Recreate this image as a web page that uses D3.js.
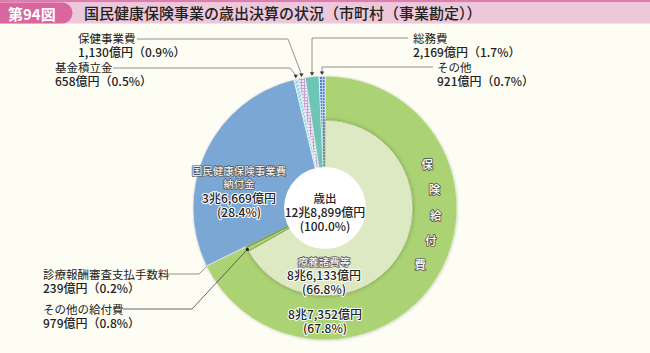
<!DOCTYPE html>
<html>
<head>
<meta charset="utf-8">
<script src="https://cdn.jsdelivr.net/npm/d3@7"></script>
<style>
  html, body { margin: 0; padding: 0; background: #fdfdf4; }
  svg { display: block; font-family: "Noto Sans CJK JP", "Noto Sans", sans-serif; }
</style>
</head>
<body>
<div id="grafico"></div>
<script>
// 外側の円：歳出の内訳（億円）
const categorias = ["保険給付費", "国民健康保険事業費納付金", "基金積立金", "保健事業費", "総務費", "その他"];
const montos = [87352, 36669, 658, 1130, 2169, 921];
const porcentajes = ["67.8%", "28.4%", "0.5%", "0.9%", "1.7%", "0.7%"];
const montosTexto = ["8兆7,352億円", "3兆6,669億円", "658億円", "1,130億円", "2,169億円", "921億円"];

// 内側の円：保険給付費の内訳（億円）
const subCategorias = ["療養諸費等", "その他の給付費", "診療報酬審査支払手数料"];
const subMontos = [86133, 979, 239];
const subPorcentajes = ["66.8%", "0.8%", "0.2%"];
const subMontosTexto = ["8兆6,133億円", "979億円", "239億円"];

const totalTexto = "12兆8,899億円";
const titulo = "国民健康保険事業の歳出決算の状況（市町村（事業勘定））";

const width = 650, height = 353;
const cx = 325, cy = 208;
const rOuter = 132, rMid = 88, rCenter = 41;

const svg = d3.select("#grafico").append("svg")
    .attr("width", width)
    .attr("height", height);

const defs = svg.append("defs");

// 模様
const p1 = defs.append("pattern").attr("id", "pt-kikin")
    .attr("width", 3).attr("height", 3).attr("patternUnits", "userSpaceOnUse")
    .attr("patternTransform", "rotate(45)");
p1.append("rect").attr("width", 3).attr("height", 3).attr("fill", "#7fd3e6");
p1.append("rect").attr("width", 1.2).attr("height", 3).attr("fill", "#e8f8fb");

const p2 = defs.append("pattern").attr("id", "pt-hoken")
    .attr("width", 3).attr("height", 3).attr("patternUnits", "userSpaceOnUse");
p2.append("rect").attr("width", 3).attr("height", 3).attr("fill", "#efe3f1");
p2.append("rect").attr("width", 1).attr("height", 3).attr("fill", "#c6a2d2");
p2.append("rect").attr("width", 3).attr("height", 1).attr("fill", "#c6a2d2");

const p3 = defs.append("pattern").attr("id", "pt-otros")
    .attr("width", 3).attr("height", 3).attr("patternUnits", "userSpaceOnUse");
p3.append("rect").attr("width", 3).attr("height", 3).attr("fill", "#4d80d2");
p3.append("rect").attr("width", 1).attr("height", 3).attr("fill", "#b9cdf0");
p3.append("rect").attr("width", 3).attr("height", 1).attr("fill", "#b9cdf0");

const sombra = defs.append("filter").attr("id", "sombra")
    .attr("x", "-20%").attr("y", "-20%").attr("width", "140%").attr("height", "140%");
sombra.append("feDropShadow").attr("dx", 0).attr("dy", 0)
    .attr("stdDeviation", 2.2).attr("flood-color", "#3d5a1e").attr("flood-opacity", 0.45);

const sombra2 = defs.append("filter").attr("id", "sombra2")
    .attr("x", "-20%").attr("y", "-20%").attr("width", "140%").attr("height", "140%");
sombra2.append("feDropShadow").attr("dx", 0.5).attr("dy", 0.5)
    .attr("stdDeviation", 1.2).attr("flood-color", "#666").attr("flood-opacity", 0.35);

const colores = ["#abd374", "#7ba7d4", "url(#pt-kikin)", "url(#pt-hoken)", "#6cc5b5", "url(#pt-otros)"];
const subColores = ["#dde9c3", "#abd374", "#abd374"];

// タイトル
svg.append("rect").attr("x", 0).attr("y", 0).attr("width", width).attr("height", 2.5).attr("fill", "#de7db0");
svg.append("rect").attr("x", 0).attr("y", 2.5).attr("width", width).attr("height", 21).attr("fill", "#ecc8da");
svg.append("path")
    .attr("d", "M0,2.5 H62 A10.5,10.5 0 0 1 62,23.5 H0 Z")
    .attr("fill", "#d9669f");
svg.append("text").attr("x", 8).attr("y", 19.5)
    .attr("font-size", 15).attr("font-weight", "bold").attr("fill", "#fff")
    .text("第94図");
svg.append("text").attr("x", 84).attr("y", 19)
    .attr("font-size", 15).attr("font-weight", 500).attr("fill", "#222")
    .text(titulo);

const g = svg.append("g").attr("transform", `translate(${cx},${cy})`);

// 外側
const pie = d3.pie().sort(null).value(d => d);
const arcosExt = pie(montos);
const arcExt = d3.arc().innerRadius(0).outerRadius(rOuter);

g.append("circle").attr("r", rOuter).attr("fill", "#999").attr("filter", "url(#sombra2)");

g.selectAll(".ext")
    .data(arcosExt)
    .enter()
    .append("path")
    .attr("class", "ext")
    .attr("d", arcExt)
    .attr("fill", (d, i) => colores[i])
    .attr("stroke", "#fff")
    .attr("stroke-width", 0.6);

// 内側（保険給付費の内訳）
const resto = d3.sum(montos) - d3.sum(subMontos);
const arcosInt = pie(subMontos.concat([resto])).slice(0, subMontos.length);
const arcInt = d3.arc().innerRadius(0).outerRadius(rMid);

g.append("path")
    .attr("d", arcInt(arcosInt[0]))
    .attr("fill", subColores[0])
    .attr("filter", "url(#sombra)");

g.selectAll(".int")
    .data(arcosInt)
    .enter()
    .append("path")
    .attr("class", "int")
    .attr("d", arcInt)
    .attr("fill", (d, i) => subColores[i])
    .attr("stroke", (d, i) => i === 0 ? "#7f9a55" : "#5d7a33")
    .attr("stroke-width", 0.5);

// 中心
g.append("circle").attr("r", rCenter).attr("fill", "#fff");

// 複数行ラベル
function bloque(x, y, lineas) {
    const t = g.append("text")
        .attr("x", x).attr("y", y)
        .attr("text-anchor", "middle")
        .attr("stroke-linejoin", "round")
        .attr("paint-order", "stroke");
    lineas.forEach((l, i) => {
        const ts = t.append("tspan")
            .attr("x", x)
            .attr("dy", i === 0 ? 0 : l.dy)
            .attr("font-size", l.size)
            .text(l.t);
        if (l.estilo === "claro") {
            ts.attr("fill", "#fff").attr("stroke", "#555").attr("stroke-width", 1.5);
        } else {
            ts.attr("fill", "#222").attr("stroke", "#fff").attr("stroke-width", 2)
              .attr("font-weight", 500);
        }
    });
    return t;
}

// 中心ラベル
bloque(0, -5, [
    { t: "歳出", estilo: "halo", size: 11.5 },
    { t: totalTexto, estilo: "halo", size: 12, dy: 14 },
    { t: "(100.0%)", estilo: "halo", size: 12, dy: 14 }
]);

// 国民健康保険事業費納付金
bloque(-86, -33, [
    { t: "国民健康保険事業費", estilo: "claro", size: 10.5 },
    { t: "納付金", estilo: "claro", size: 10.5, dy: 13 },
    { t: montosTexto[1], estilo: "halo", size: 12, dy: 14.5 },
    { t: `(${porcentajes[1]})`, estilo: "halo", size: 12, dy: 14 }
]);

// 療養諸費等
bloque(-1, 58, [
    { t: subCategorias[0], estilo: "claro", size: 10.5 },
    { t: subMontosTexto[0], estilo: "halo", size: 12, dy: 14 },
    { t: `(${subPorcentajes[0]})`, estilo: "halo", size: 12, dy: 13.5 }
]);

// 保険給付費（外側）
bloque(0, 111, [
    { t: montosTexto[0], estilo: "halo", size: 12 },
    { t: `(${porcentajes[0]})`, estilo: "halo", size: 12, dy: 13.5 }
]);

// 保険給付費（縦書き・円弧沿い）
const chars = categorias[0].split("");
const rTexto = 111;
chars.forEach((c, i) => {
    const ang = (67 + i * 13.5) * Math.PI / 180;
    g.append("text")
        .attr("x", rTexto * Math.sin(ang))
        .attr("y", -rTexto * Math.cos(ang) + 4)
        .attr("text-anchor", "middle")
        .attr("font-size", 11.5)
        .attr("font-weight", 500)
        .attr("fill", "#fff")
        .attr("stroke", "#555")
        .attr("stroke-width", 1.6)
        .attr("stroke-linejoin", "round")
        .attr("paint-order", "stroke")
        .text(c);
});

// 引出線
const punto = (ang, r) => [cx + r * Math.sin(ang), cy - r * Math.cos(ang)];
const medio = d => (d.startAngle + d.endAngle) / 2;
const linea = d3.line();

function flecha(x, y) {
    svg.append("path")
        .attr("d", `M${x - 2.2},${y - 3.5} L${x + 2.2},${y - 3.5} L${x},${y} Z`)
        .attr("fill", "#333");
}

function etiqueta(x, y, nombre, monto, pct) {
    const t = svg.append("text").attr("x", x).attr("y", y).attr("fill", "#222");
    t.append("tspan").attr("x", x).attr("font-size", 11.5).text(nombre);
    t.append("tspan").attr("x", x).attr("dy", 14)
        .attr("font-size", 12).attr("font-weight", 500)
        .text(`${monto}（${pct}）`);
}

// 上部の引出線
const arribas = [
    { i: 3, ly: 39, x0: 137, xc: 288 },
    { i: 2, ly: 68, x0: 113, xc: 290 },
    { i: 4, ly: 38, x0: 408, xc: null },
    { i: 5, ly: 67, x0: 433, xc: null }
];
arribas.forEach(a => {
    const [px, py] = punto(medio(arcosExt[a.i]), rOuter + 1);
    const xc = a.xc === null ? px : a.xc;
    svg.append("path")
        .attr("d", linea([[a.x0, a.ly], [xc, a.ly], [px, py - 3]]))
        .attr("fill", "none").attr("stroke", "#777").attr("stroke-width", 0.8);
    flecha(px, py);
});

etiqueta(78, 43, categorias[3], montosTexto[3], porcentajes[3]);
etiqueta(55, 72, categorias[2], montosTexto[2], porcentajes[2]);
etiqueta(413, 43, categorias[4], montosTexto[4], porcentajes[4]);
etiqueta(437, 72, categorias[5], montosTexto[5], porcentajes[5]);

// 下部の引出線
{
    const [px, py] = punto(medio(arcosInt[2]), rOuter);
    svg.append("path")
        .attr("d", linea([[163, 274], [199, 274], [px, py]]))
        .attr("fill", "none").attr("stroke", "#777").attr("stroke-width", 0.8);
}
{
    const [px, py] = punto(medio(arcosInt[1]), rMid);
    svg.append("path")
        .attr("d", linea([[123, 309], [192, 309], [px, py]]))
        .attr("fill", "none").attr("stroke", "#444").attr("stroke-width", 0.8);
    svg.append("circle").attr("cx", px).attr("cy", py).attr("r", 1.6).attr("fill", "#222");
}

etiqueta(43, 279, subCategorias[2], subMontosTexto[2], subPorcentajes[2]);
etiqueta(43, 314, subCategorias[1], subMontosTexto[1], subPorcentajes[1]);
</script>
</body>
</html>
